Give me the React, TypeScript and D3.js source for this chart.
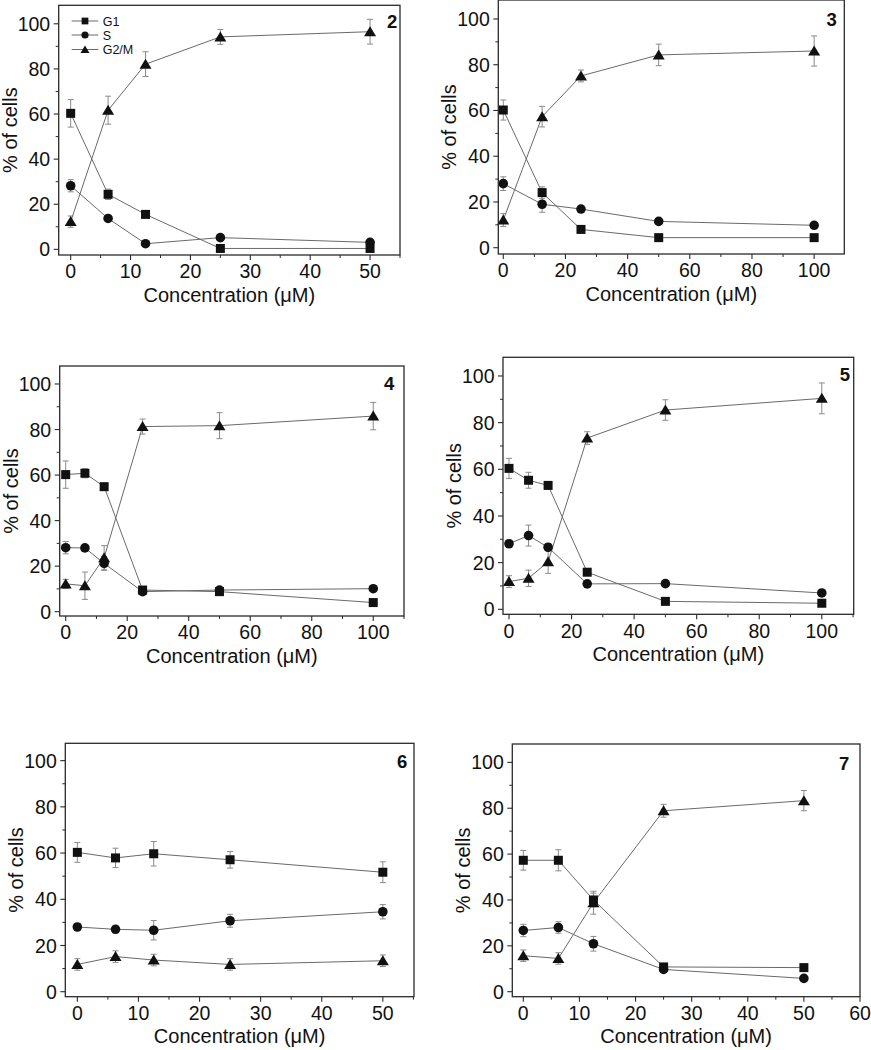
import React from 'react';
import * as d3 from 'd3';

const FONT = '"Liberation Sans", Arial, Helvetica, sans-serif';

// ---------- data (concentration in µM, % of cells, ± error) ----------
const conc2 = [0, 6.25, 12.5, 25, 50];
const g1_2 = [60.3, 24.4, 15.5, 0.4, 0.4];
const g1Err2 = [6.1, 2.3, 1.0, 0.5, 0.5];
const s_2 = [28.2, 13.7, 2.5, 5.2, 3.1];
const sErr2 = [2.7, 1.0, 0.8, 0.8, 0.8];
const g2m_2 = [12.3, 61.7, 82.1, 94.2, 96.5];
const g2mErr2 = [2.5, 6.2, 5.5, 3.3, 5.5];

const conc3 = [0, 12.5, 25, 50, 100];
const g1_3 = [60.2, 24.1, 8.0, 4.4, 4.4];
const g1Err3 = [4.4, 2.5, 1.0, 0.5, 0.5];
const s_3 = [28.0, 19.0, 16.9, 11.5, 9.8];
const sErr3 = [3.0, 3.5, 1.0, 1.0, 1.0];
const g2m_3 = [12.1, 57.3, 75.1, 84.3, 86.0];
const g2mErr3 = [2.8, 4.5, 2.6, 4.7, 6.6];

const conc4 = [0, 6.25, 12.5, 25, 50, 100];
const g1_4 = [60.2, 60.8, 54.9, 9.5, 8.8, 4.0];
const g1Err4 = [6.0, 2.0, 1.0, 1.0, 1.0, 0.5];
const s_4 = [28.1, 28.0, 21.2, 8.8, 9.5, 10.1];
const sErr4 = [2.7, 1.5, 3.0, 1.0, 1.0, 1.0];
const g2m_4 = [12.2, 11.4, 23.7, 81.3, 81.7, 85.9];
const g2mErr4 = [2.0, 6.0, 5.3, 3.3, 5.7, 6.0];

const conc5 = [0, 6.25, 12.5, 25, 50, 100];
const g1_5 = [60.4, 55.3, 53.1, 15.9, 3.4, 2.6];
const g1Err5 = [4.3, 3.4, 1.0, 1.0, 0.5, 0.5];
const s_5 = [28.1, 31.6, 26.6, 10.9, 11.0, 7.0];
const sErr5 = [1.5, 4.5, 1.5, 1.0, 1.0, 1.0];
const g2m_5 = [11.9, 13.3, 20.4, 73.4, 85.4, 90.4];
const g2mErr5 = [2.5, 3.5, 5.0, 2.7, 4.4, 6.6];

const conc6 = [0, 6.25, 12.5, 25, 50];
const g1_6 = [60.3, 57.9, 59.7, 57.1, 51.7];
const g1Err6 = [4.3, 4.2, 5.3, 3.6, 4.5];
const s_6 = [28.0, 27.0, 26.6, 30.7, 34.6];
const sErr6 = [1.5, 1.5, 4.2, 2.8, 3.1];
const g2m_6 = [11.8, 15.2, 13.7, 11.8, 13.4];
const g2mErr6 = [2.5, 2.5, 2.5, 2.5, 2.5];

const conc7 = [0, 6.25, 12.5, 25, 50];
const g1_7 = [57.3, 57.3, 40.0, 10.8, 10.5];
const g1Err7 = [4.3, 4.6, 3.0, 1.0, 0.5];
const s_7 = [26.7, 28.0, 20.9, 9.7, 5.8];
const sErr7 = [2.7, 2.5, 3.2, 1.0, 0.5];
const g2m_7 = [15.7, 14.5, 38.8, 78.9, 83.3];
const g2mErr7 = [2.5, 2.5, 5.0, 2.8, 4.4];

// ---------- tick labels ----------
const yTicks = [0, 20, 40, 60, 80, 100];
const yMinor = [10, 30, 50, 70, 90];
const xTicks50 = [0, 10, 20, 30, 40, 50];
const xMinor50 = [5, 15, 25, 35, 45, 55];
const xTicks100 = [0, 20, 40, 60, 80, 100];
const xMinor100 = [10, 30, 50, 70, 90, 110];
const xTicks60 = [0, 10, 20, 30, 40, 50, 60];
const xMinor60 = [5, 15, 25, 35, 45, 55];

const seriesNames = ['G1', 'S', 'G2/M'];
const seriesShapes = ['square', 'circle', 'triangle'];

// ---------- layout ----------
const panels = [
  { id: '2', L: 58.7, T: 5.3, R: 400, B: 255, xDom: [-2, 55], yDom: [-2.5, 108.2], xt: xTicks50, xm: xMinor50, lx: 397.3, ly: 28.3, conc: conc2, ys: [g1_2, s_2, g2m_2], es: [g1Err2, sErr2, g2mErr2], legend: true },
  { id: '3', L: 498.3, T: 0, R: 844.3, B: 254, xDom: [-1.6, 109.7], yDom: [-2.75, 108.3], xt: xTicks100, xm: xMinor100, lx: 836.7, ly: 26, conc: conc3, ys: [g1_3, s_3, g2m_3], es: [g1Err3, sErr3, g2mErr3] },
  { id: '4', L: 59.7, T: 366, R: 404, B: 616, xDom: [-1.95, 110], yDom: [-1.9, 107.9], xt: xTicks100, xm: xMinor100, lx: 394.3, ly: 390, conc: conc4, ys: [g1_4, s_4, g2m_4], es: [g1Err4, sErr4, g2mErr4] },
  { id: '5', L: 503, T: 357.3, R: 853.7, B: 614.3, xDom: [-1.92, 110.2], yDom: [-2.14, 108], xt: xTicks100, xm: xMinor100, lx: 850, ly: 380.7, conc: conc5, ys: [g1_5, s_5, g2m_5], es: [g1Err5, sErr5, g2mErr5] },
  { id: '6', L: 65.3, T: 743.3, R: 414, B: 996.7, xDom: [-1.97, 55.1], yDom: [-2.16, 107.5], xt: xTicks50, xm: xMinor50, lx: 407.3, ly: 767.7, conc: conc6, ys: [g1_6, s_6, g2m_6], es: [g1Err6, sErr6, g2mErr6] },
  { id: '7', L: 512.3, T: 744, R: 860, B: 996.7, xDom: [-1.96, 60], yDom: [-2.18, 108], xt: xTicks60, xm: xMinor60, lx: 849.3, ly: 770, conc: conc7, ys: [g1_7, s_7, g2m_7], es: [g1Err7, sErr7, g2mErr7] },
];

const LINE = '#6a6a6a';
const ERR = '#8a8a8a';
const MARK = '#111';
const AXIS = '#2a2a2a';

function Marker({ shape, x, y, s = 1 }: { shape: string; x: number; y: number; s?: number }) {
  if (shape === 'square') {
    const w = 9 * s;
    return <rect x={x - w / 2} y={y - w / 2} width={w} height={w} fill={MARK} />;
  }
  if (shape === 'circle') {
    return <circle cx={x} cy={y} r={4.8 * s} fill={MARK} />;
  }
  const w = 12 * s;
  const h = 10 * s;
  const cy = y - 0.5 * s;
  return <polygon points={`${x - w / 2},${cy + h / 2} ${x + w / 2},${cy + h / 2} ${x},${cy - h / 2}`} fill={MARK} />;
}

function Panel({ p }: { p: any }) {
  const x = d3.scaleLinear().domain(p.xDom).range([p.L, p.R]);
  const y = d3.scaleLinear().domain(p.yDom).range([p.B, p.T]);
  const line = d3
    .line<[number, number]>()
    .x((d) => x(d[0]))
    .y((d) => y(d[1]));
  const inX = (v: number) => v >= p.xDom[0] && v <= p.xDom[1] + 1e-6;
  const cap = 3;
  return (
    <g>
      {p.ys.map((vals: number[], si: number) => (
        <path key={'l' + si} d={line(p.conc.map((c: number, i: number) => [c, vals[i]]) as any) || ''} fill="none" stroke={LINE} strokeWidth={1} />
      ))}
      {p.ys.map((vals: number[], si: number) =>
        p.conc.map((c: number, i: number) => {
          const cx = x(c);
          const y1 = y(vals[i] + p.es[si][i]);
          const y2 = y(vals[i] - p.es[si][i]);
          return (
            <g key={'e' + si + '-' + i} stroke={ERR} strokeWidth={1}>
              <line x1={cx} x2={cx} y1={y1} y2={y2} />
              <line x1={cx - cap} x2={cx + cap} y1={y1} y2={y1} />
              <line x1={cx - cap} x2={cx + cap} y1={y2} y2={y2} />
            </g>
          );
        })
      )}
      {p.ys.map((vals: number[], si: number) =>
        p.conc.map((c: number, i: number) => <Marker key={'m' + si + '-' + i} shape={seriesShapes[si]} x={x(c)} y={y(vals[i])} />)
      )}
      <rect x={p.L} y={p.T} width={p.R - p.L} height={p.B - p.T} fill="none" stroke={AXIS} strokeWidth={1.3} />
      {yTicks.map((t) => (
        <g key={'yt' + t}>
          <line x1={p.L - 5} x2={p.L} y1={y(t)} y2={y(t)} stroke={AXIS} strokeWidth={1.1} />
          <text x={p.L - 8.5} y={y(t)} dy="0.36em" textAnchor="end" fontSize={19.5} fontFamily={FONT} fill="#111">
            {t}
          </text>
        </g>
      ))}
      {yMinor.map((t) => (
        <line key={'ym' + t} x1={p.L - 3} x2={p.L} y1={y(t)} y2={y(t)} stroke={AXIS} strokeWidth={1} />
      ))}
      {p.xt.map((t: number) => (
        <g key={'xt' + t}>
          <line x1={x(t)} x2={x(t)} y1={p.B} y2={p.B + 5} stroke={AXIS} strokeWidth={1.1} />
          <text x={x(t)} y={p.B + 23.3} textAnchor="middle" fontSize={19.5} fontFamily={FONT} fill="#111">
            {t}
          </text>
        </g>
      ))}
      {p.xm.filter(inX).map((t: number) => (
        <line key={'xm' + t} x1={x(t)} x2={x(t)} y1={p.B} y2={p.B + 3} stroke={AXIS} strokeWidth={1} />
      ))}
      <text x={(p.L + p.R) / 2} y={p.B + 46.5} textAnchor="middle" fontSize={20} fontFamily={FONT} fill="#111">
        Concentration (μM)
      </text>
      <text transform={`translate(${p.L - 42},${(p.T + p.B) / 2}) rotate(-90)`} textAnchor="middle" fontSize={20} fontFamily={FONT} fill="#111">
        % of cells
      </text>
      <text x={p.lx} y={p.ly} textAnchor="end" fontSize={18.5} fontWeight="bold" fontFamily={FONT} fill="#111">
        {p.id}
      </text>
      {p.legend &&
        seriesNames.map((nm, i) => {
          const ly = [21, 35, 49.5][i];
          return (
            <g key={'lg' + i}>
              <line x1={71.7} x2={98.3} y1={ly} y2={ly} stroke={LINE} strokeWidth={1} />
              <Marker shape={seriesShapes[i]} x={85} y={ly} s={0.75} />
              <text x={102.7} y={ly} dy="0.36em" fontSize={12.5} fontFamily={FONT} fill="#111">
                {nm}
              </text>
            </g>
          );
        })}
    </g>
  );
}

export default function App() {
  return (
    <svg
      width={871}
      height={1050}
      viewBox="0 0 871 1050"
      style={{ position: 'absolute', left: 0, top: 0, background: '#fff', display: 'block' }}
    >
      <rect x={0} y={0} width={871} height={1050} fill="#fff" />
      {panels.map((p) => (
        <Panel key={p.id} p={p} />
      ))}
    </svg>
  );
}
